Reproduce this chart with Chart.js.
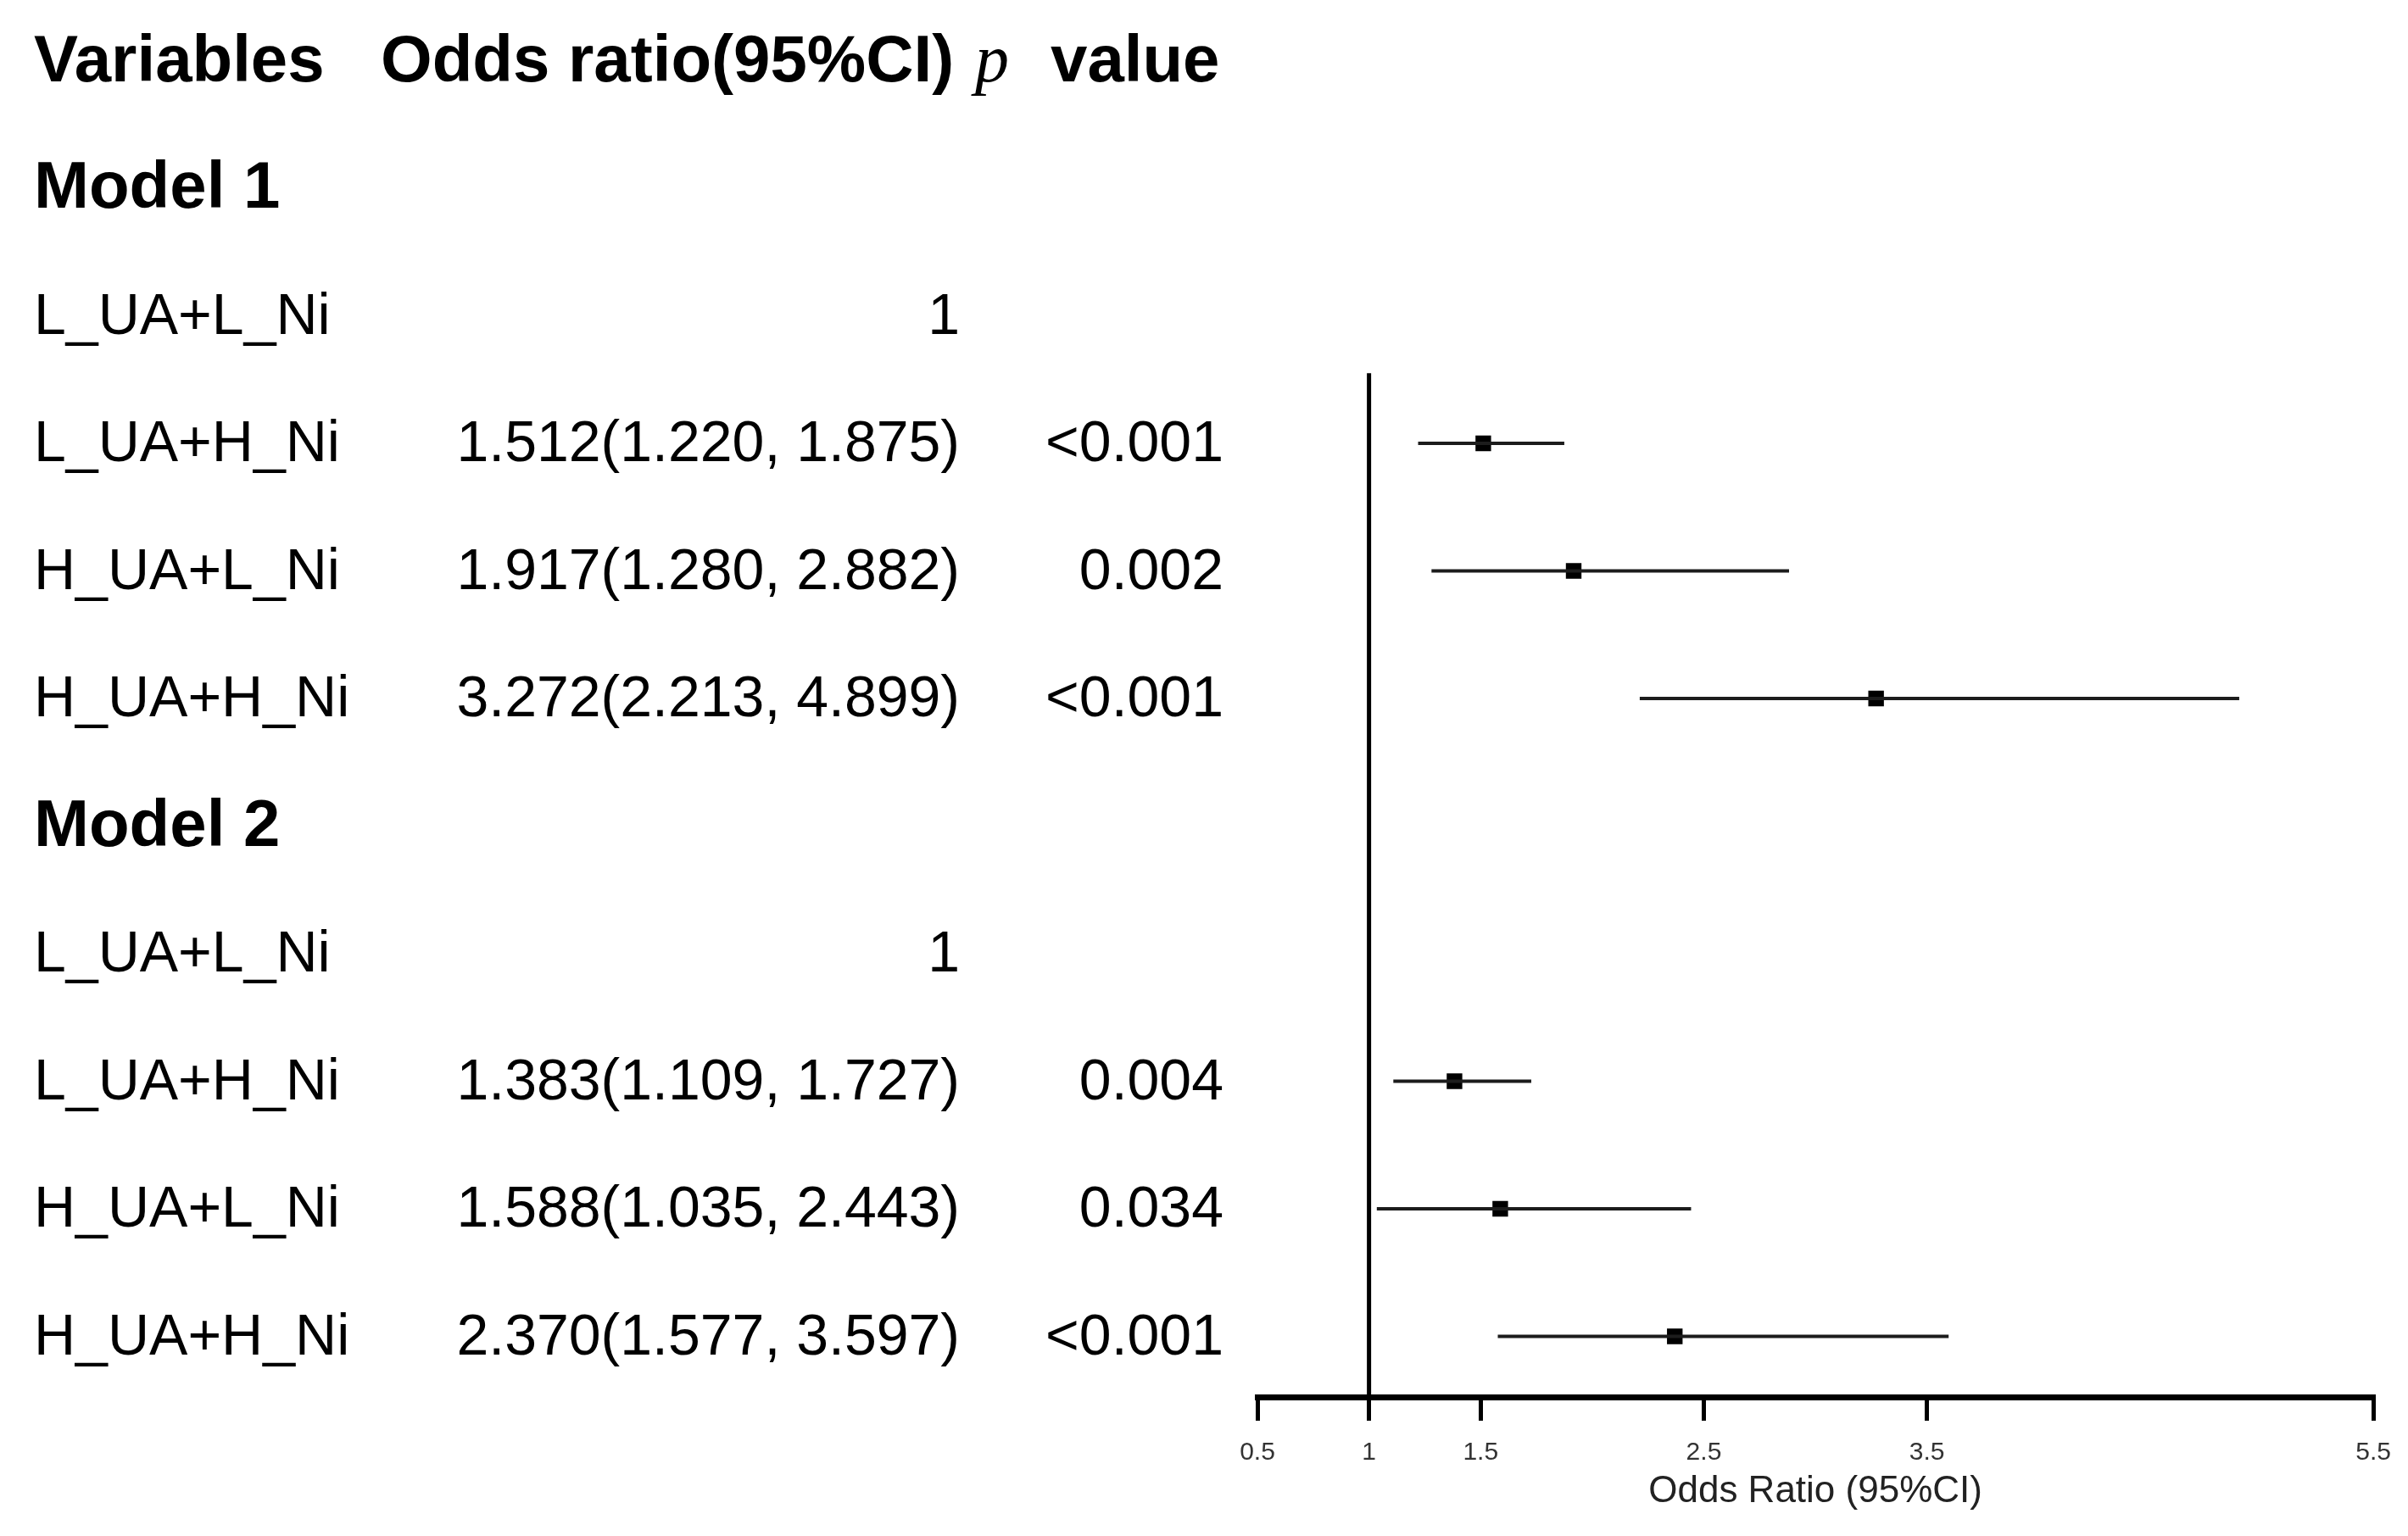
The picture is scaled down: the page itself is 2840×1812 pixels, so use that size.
<!DOCTYPE html>
<html>
<head>
<meta charset="utf-8">
<script src="https://cdn.jsdelivr.net/npm/chart.js@4"></script>
<style>
  html, body { margin: 0; padding: 0; background: #fff; }
  #wrap { width: 2840px; height: 1812px; position: relative; }
</style>
</head>
<body>
<div id="wrap"><canvas id="forest"></canvas></div>
<script>
// ---- data ----
const rowLabels = ['Model 1', 'L_UA+L_Ni', 'L_UA+H_Ni', 'H_UA+L_Ni', 'H_UA+H_Ni',
                   'Model 2', 'L_UA+L_Ni', 'L_UA+H_Ni', 'H_UA+L_Ni', 'H_UA+H_Ni'];
const isHeading = [true, false, false, false, false, true, false, false, false, false];
const oddsRatio = [null, 1, 1.512, 1.917, 3.272, null, 1, 1.383, 1.588, 2.370];
const ciLower   = [null, null, 1.220, 1.280, 2.213, null, null, 1.109, 1.035, 1.577];
const ciUpper   = [null, null, 1.875, 2.882, 4.899, null, null, 1.727, 2.443, 3.597];
const pText     = ['', '', '<0.001', '0.002', '<0.001', '', '', '0.004', '0.034', '<0.001'];
const tickValues = [0.5, 1, 1.5, 2.5, 3.5, 5.5];
const refValue = 1;

// rows sit at y = 1..10, the column header at y = 0
const yMin = -0.389, yMax = 10.475;
const refLineTop = 2.45;

function orLabel(i) {
  if (oddsRatio[i] === null) return '';
  if (ciLower[i] === null) return String(oddsRatio[i]);
  return oddsRatio[i].toFixed(3) + '(' + ciLower[i].toFixed(3) + ', ' + ciUpper[i].toFixed(3) + ')';
}

// ---- datasets ----
const datasets = [];

// reference line at OR = 1
datasets.push({
  type: 'line',
  data: [{ x: refValue, y: refLineTop }, { x: refValue, y: yMax }],
  borderColor: '#000',
  borderWidth: 5,
  pointRadius: 0,
  clip: false
});

// confidence interval whiskers
rowLabels.forEach((lab, i) => {
  if (ciLower[i] === null) return;
  datasets.push({
    type: 'line',
    data: [{ x: ciLower[i], y: i + 1 }, { x: ciUpper[i], y: i + 1 }],
    borderColor: '#1c1c1c',
    borderWidth: 4,
    pointRadius: 0
  });
});

// point estimates
const points = [];
rowLabels.forEach((lab, i) => {
  if (ciLower[i] !== null) points.push({ x: oddsRatio[i], y: i + 1 });
});
datasets.push({
  type: 'scatter',
  data: points,
  pointStyle: 'rect',
  pointRadius: 13,
  pointBorderWidth: 0,
  backgroundColor: '#000',
  borderColor: '#000'
});

// ---- table text drawn next to the plot ----
const tablePlugin = {
  id: 'tableText',
  afterDraw(chart) {
    const ctx = chart.ctx;
    const y = chart.scales.y;
    ctx.save();
    ctx.fillStyle = '#000';
    ctx.textBaseline = 'alphabetic';

    // column header
    const hy = y.getPixelForValue(0) + 24;
    ctx.font = 'bold 78px "Liberation Sans", Arial, sans-serif';
    ctx.textAlign = 'left';
    ctx.fillText('Variables', 40, hy, 350);
    ctx.fillText('Odds ratio(95%CI)', 449, hy, 680);
    ctx.fillText('value', 1239, hy, 205);
    ctx.font = 'italic 80px "Liberation Serif", "DejaVu Serif", serif';
    ctx.fillText('p', 1150, hy);

    rowLabels.forEach((lab, i) => {
      const py = y.getPixelForValue(i + 1);
      if (isHeading[i]) {
        ctx.font = 'bold 78px "Liberation Sans", Arial, sans-serif';
        ctx.textAlign = 'left';
        ctx.fillText(lab, 40, py + 23);
        return;
      }
      ctx.font = '68px "Liberation Sans", Arial, sans-serif';
      ctx.textAlign = 'left';
      ctx.fillText(lab, 40, py + 21);
      ctx.textAlign = 'right';
      ctx.fillText(orLabel(i), 1132, py + 21);
      if (pText[i]) ctx.fillText(pText[i], 1443, py + 21);
    });
    ctx.restore();
  }
};

new Chart(document.getElementById('forest'), {
  type: 'scatter',
  data: { datasets: datasets },
  plugins: [tablePlugin],
  options: {
    responsive: true,
    maintainAspectRatio: false,
    animation: false,
    devicePixelRatio: 1,
    layout: { padding: { left: 1483, right: 40, top: 0, bottom: 0 } },
    plugins: {
      legend: { display: false },
      tooltip: { enabled: false }
    },
    scales: {
      x: {
        type: 'linear',
        min: 0.5,
        max: 5.5,
        afterBuildTicks(scale) {
          scale.ticks = tickValues.map(v => ({ value: v }));
        },
        afterFit(scale) {
          scale.height = 164;
        },
        border: { display: true, color: '#000', width: 7 },
        grid: {
          drawOnChartArea: false,
          drawTicks: true,
          tickLength: 28,
          color: '#000',
          lineWidth: 5
        },
        ticks: {
          autoSkip: false,
          maxRotation: 0,
          padding: 20,
          color: '#333',
          font: { family: '"Liberation Sans", Arial, sans-serif', size: 30 },
          callback: v => String(v)
        },
        title: {
          display: true,
          text: 'Odds Ratio (95%CI)',
          color: '#222',
          font: { family: '"Liberation Sans", Arial, sans-serif', size: 44 },
          padding: { top: 0, bottom: 26 }
        }
      },
      y: {
        type: 'linear',
        reverse: true,
        min: yMin,
        max: yMax,
        display: false
      }
    }
  }
});
</script>
</body>
</html>
